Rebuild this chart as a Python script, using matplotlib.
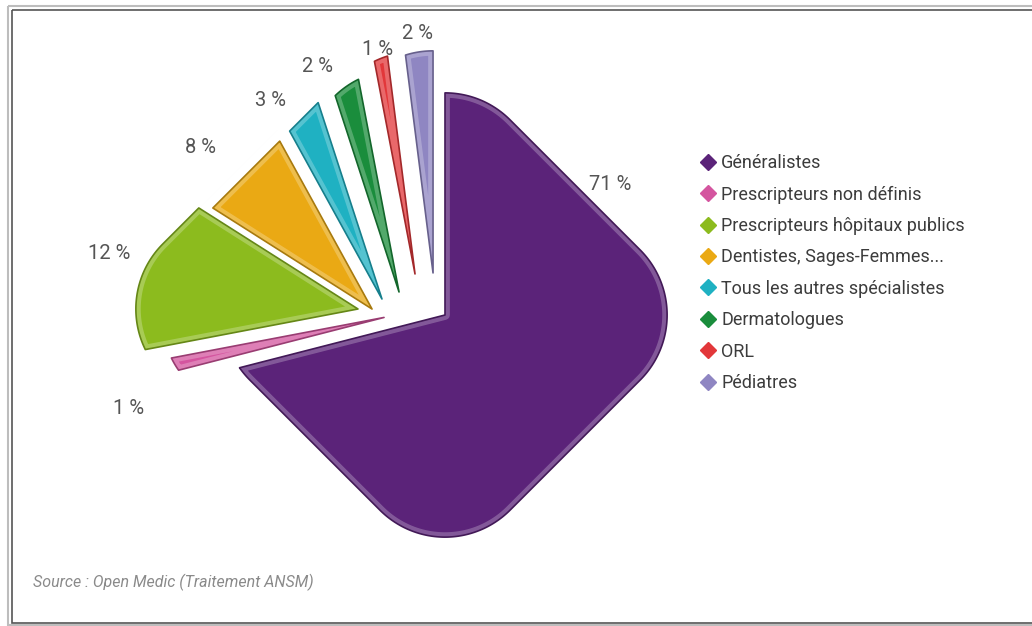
import numpy as np
import matplotlib
matplotlib.use("Agg")
import matplotlib.pyplot as plt
from matplotlib.patches import Polygon, Rectangle
from matplotlib.lines import Line2D
import matplotlib.colors as mcolors

# ---------------- data ----------------
categories = ["Généralistes", "Prescripteurs non définis", "Prescripteurs hôpitaux publics",
              "Dentistes, Sages-Femmes...", "Tous les autres spécialistes", "Dermatologues",
              "ORL", "Pédiatres"]
values = [71, 1, 12, 8, 3, 2, 1, 2]
pct_labels = ["71 %", "1 %", "12 %", "8 %", "3 %", "2 %", "1 %", "2 %"]
source_text = "Source : Open Medic (Traitement ANSM)"

# ---------------- style ----------------
colors = ["#5b2379", "#d4559f", "#8cbb1e", "#eaa914", "#1fb1c2", "#1a8d3c", "#e2373a", "#8f86c2"]
explode_r = [0, 60, 86.6, 54.3, 39.7, 33.7, 45.2, 42.7]       # radial shift (px)
explode_t = [0, -10.9, 10.4, 49.1, 51.5, 38.8, 23.2, 9.3]     # tangential shift (px)
label_gap = [25, 57, 38, 51, 30, 28, 9, 18]
label_rot = [76, 7, -1.7, 3.5, 6, 5.4, 0.4, 0]
center = (445, 315)
half = 184.0      # half-size of the rounded square (diamond)
corner_r = 92.0   # corner rounding radius
font = ["Roboto", "DejaVu Sans"]

W, H = 1032, 626
fig = plt.figure(figsize=(W / 100, H / 100), dpi=100)
ax = fig.add_axes([0, 0, 1, 1])
ax.set_xlim(0, W)
ax.set_ylim(H, 0)
ax.axis("off")


def rad(theta):
    phi = np.radians(np.asarray(theta, dtype=float) - 45.0)
    a1, a2 = np.abs(np.cos(phi)), np.abs(np.sin(phi))
    du, dv = np.maximum(a1, a2), np.minimum(a1, a2)
    c = half - corner_r
    straight = half / du
    dc = c * (du + dv)
    curved = dc + np.sqrt(np.maximum(dc ** 2 - 2 * c * c + corner_r ** 2, 0))
    return np.where(dv / du <= c / half, straight, curved)


def unit(theta):
    t = np.radians(theta)
    return np.cos(t), -np.sin(t)


def shade(c, f):
    r, g, b = mcolors.to_rgb(c)
    return (r * f, g * f, b * f)


def tint(c, f):
    r, g, b = mcolors.to_rgb(c)
    return (r + (1 - r) * f, g + (1 - g) * f, b + (1 - b) * f)


vals = np.asarray(values, dtype=float)
cum = np.concatenate([[0], np.cumsum(vals)]) / vals.sum()
starts = 90 - 360 * cum[:-1]
ends = 90 - 360 * cum[1:]

for i in range(len(vals)):
    t1, t2 = starts[i], ends[i]
    mid = 0.5 * (t1 + t2)
    ux, uy = unit(mid)
    tx, ty = -np.sin(np.radians(mid)), -np.cos(np.radians(mid))
    ax0 = center[0] + explode_r[i] * ux + explode_t[i] * tx
    ay0 = center[1] + explode_r[i] * uy + explode_t[i] * ty
    th = np.linspace(t1, t2, max(int(abs(t2 - t1) * 3), 4))
    cx, cy = unit(th)
    rr = rad(th)
    xs = np.concatenate([[ax0], ax0 + rr * cx])
    ys = np.concatenate([[ay0], ay0 + rr * cy])
    pts = np.column_stack([xs, ys])
    body = Polygon(pts, closed=True, facecolor=colors[i], edgecolor="none", zorder=2)
    ax.add_patch(body)
    bevel = Polygon(pts, closed=True, fill=False, edgecolor=tint(colors[i], 0.35),
                    lw=7, alpha=0.7, joinstyle="round", zorder=3)
    ax.add_patch(bevel)
    bevel.set_clip_path(body)
    ax.add_patch(Polygon(pts, closed=True, fill=False, edgecolor=shade(colors[i], 0.72),
                         lw=1.2, joinstyle="round", zorder=4))
    # label
    la = mid + label_rot[i]
    lx, ly = unit(la)
    d = float(rad(mid)) + label_gap[i]
    ax.text(ax0 + d * lx, ay0 + d * ly, pct_labels[i], ha="center", va="center",
            fontsize=14.5, color="#555555", family=font, zorder=5)

# legend
handles = [Line2D([0], [0], marker="D", linestyle="none", markersize=8.5,
                  markerfacecolor=colors[i], markeredgecolor=colors[i]) for i in range(len(vals))]
leg = ax.legend(handles, categories, loc="upper left", bbox_to_anchor=(685 / W, 1 - 138 / H),
                frameon=False, handlelength=0.8, handletextpad=0.3, labelspacing=0.74,
                prop={"family": font, "size": 13})
for t in leg.get_texts():
    t.set_color("#3c3c3c")

ax.text(33, 582, source_text, ha="left", va="center", fontsize=11.5, style="italic",
        color="#8a8a8a", family=font)

# frame
ax.add_patch(Rectangle((7.5, 5.5), 1040, 619, fill=False, edgecolor="#bdbdbd", lw=1.5, zorder=1))
ax.add_patch(Rectangle((11.5, 9.5), 1040, 613, fill=False, edgecolor="#555555", lw=1.2, zorder=1))

fig.savefig("out.png", dpi=100)
